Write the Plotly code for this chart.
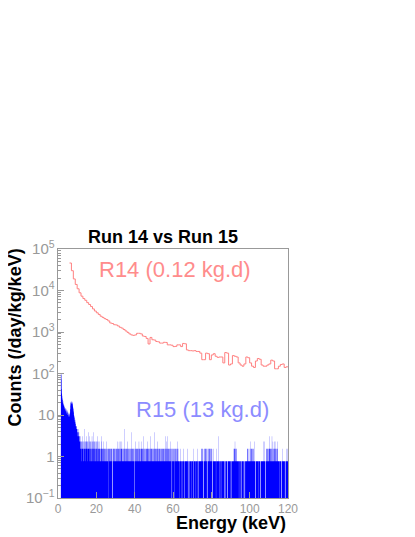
import numpy as np
import plotly.graph_objects as go

# Run 14 (0.12 kg.d): rate in counts/day/kg/keV, 1 keV bins starting at 6 keV
r14_start = 6.0
r14_bin = 1.0
r14_rate = [
    46000, 30000, 19000, 14000, 11000, 8800, 7300, 6400, 5800, 5100,
    4600, 4100, 3600, 3200, 2900, 2650, 2400, 2250, 2100, 2000,
    1850, 1650, 1600, 1500, 1480, 1400, 1300, 1240, 1150, 1060,
    980, 900, 850, 830, 850, 930, 930, 900, 800, 780,
    700, 515, 740, 650, 640, 590, 580, 540, 540, 565,
    560, 490, 490, 480, 445, 450, 490, 490, 445, 530,
    520, 370, 355, 355, 350, 355, 340, 340, 310, 215,
    215, 310, 300, 215, 280, 300, 260, 245, 250, 250,
    180, 320, 310, 160, 170, 270, 260, 250, 180, 160,
    150, 170, 250, 240, 180, 150, 140, 200, 230, 220,
    160, 150, 150, 160, 170, 210, 200, 130, 130, 150,
    165, 170, 140, 145,
]

# Run 15 (13 kg.d): raw counts in 0.1 keV bins
r15_exposure = 13.0   # kg.d
r15_bin = 0.1         # keV
r15_first_bin = 15    # nothing below 1.5 keV
# 1.5 - 13.9 keV
r15_low = [
    125, 130, 120, 95, 55,
    43, 38, 34, 31, 30, 26, 28, 24, 25, 22,
    23, 21, 20, 22, 18, 20, 19, 17, 19, 18,
    16, 19, 17, 15, 18, 16, 14, 17, 15, 16,
    13, 15, 14, 12, 15, 13, 14, 12, 14, 13,
    12, 14, 15, 18, 22, 25, 27, 26, 28, 25,
    27, 26, 24, 27, 25, 26, 24, 22, 20, 18,
    19, 16, 15, 13, 12, 11, 12, 10, 9, 10,
    8, 9, 7, 8, 7, 6, 7, 6, 7, 5,
    6, 5, 6, 4, 5, 6, 4, 5, 4, 5,
    3, 4, 4, 3, 4, 3, 2, 4, 3, 2,
    3, 2, 3, 2, 1, 3, 2, 2, 4, 2,
    3, 1, 2, 3, 2, 1, 2, 6, 2, 3,
]
# 14 - 120 keV, one line per keV, one digit per 0.1 keV bin
r15_high = [
    "2322312432", "3223132252", "2321342312", "3212231423", "2132152313",
    "2231213232", "1232413212", "2312221321", "2121232412", "1221212312",
    "2112212121", "2131212211", "1221201212", "2112212221", "1200021212",
    "2121122121", "1212212112", "2132121231", "1221312122", "2123121211",
    "1212221612", "2112121221", "1231212112", "2121122121", "1251212112",
    "2112212001", "2121312212", "1212212121", "2132121212", "1213221212",
    "2121412121", "1221212112", "2121232121", "1212212211", "4121212212",
    "2112121221", "1212512121", "2121122132", "1212211212", "2121121221",
    "1211221212", "2121212112", "1241221312", "4121212121", "1212212131",
    "2120012121", "1212121201", "2121212112", "1312121211", "1111011121",
    "1110111101", "1111112111", "0011111111", "1111211101", "1100011111",
    "1111101111", "1111110021", "1111111011", "1111102111", "1001111111",
    "1111112121", "1212112100", "0121211212", "1212121000", "1212112121",
    "2121121212", "1212100011", "1121111111", "1111011121", "1111111114",
    "1111001111", "1110111111", "1111111011", "0001111111", "1100011111",
    "1111111101", "1111110011", "1111111212", "2123121211", "2121111111",
    "1111011111", "1111000111", "1111111101", "1110001111", "1111112121",
    "2121111111", "1212131212", "1211212121", "1213111110", "0011111111",
    "1111011111", "1111100011", "1111111111", "1131111131", "0001112121",
    "2121211212", "1212421212", "2121214121", "1312121312", "2131212121",
    "1212131211", "1111101111", "1111100011", "1211111111", "1111000111",
    "1121111112",
]

r15_counts = np.array([0] * r15_first_bin + r15_low + [int(c) for c in "".join(r15_high)], dtype=float)
r15_rate = r15_counts / (r15_exposure * r15_bin)
floor = 1e-2  # below the visible range, empty bins drop out of sight
r15_edges = np.arange(len(r15_counts) + 1) * r15_bin
r15_y = np.append(np.where(r15_counts > 0, r15_rate, floor), floor)

r14_edges = r14_start + np.arange(len(r14_rate) + 1) * r14_bin
r14_y = r14_rate + [r14_rate[-1]]

fig = go.Figure()
fig.add_trace(go.Scatter(x=r15_edges, y=r15_y, mode='lines', fill='toself',
                         fillcolor='#0000ff', line=dict(width=0, shape='hv', simplify=False),
                         hoverinfo='skip', name='R15'))
fig.add_trace(go.Scatter(x=r14_edges, y=r14_y, mode='lines',
                         line=dict(color='#ff8080', width=1, shape='hv', simplify=False),
                         name='R14'))

grey = '#999999'
fig.update_xaxes(range=[0, 120], dtick=20, ticks='inside', ticklen=6, tickcolor=grey,
                 showline=True, linecolor=grey, mirror=True, showgrid=False, zeroline=False,
                 tickfont=dict(family='Liberation Sans', size=12, color=grey))
fig.update_yaxes(type='log', range=[-1, 5], dtick=1, exponentformat='power',
                 ticks='inside', ticklen=6, tickcolor=grey,
                 minor=dict(ticks='inside', ticklen=3, tickcolor=grey, showgrid=False),
                 showline=True, linecolor=grey, mirror=True, showgrid=False, zeroline=False,
                 tickfont=dict(family='Liberation Sans', size=12, color=grey))

# the page body adds an 8 px margin, so the figure is 8 px smaller than the window
bold = dict(family='Liberation Sans', size=18, color='black', weight='bold')
fig.update_layout(
    width=407, height=529,
    margin=dict(l=50, r=127, t=241, b=39),
    paper_bgcolor='white', plot_bgcolor='white',
    showlegend=False,
    title=dict(text='<b>Run 14 vs Run 15</b>', font=bold, xref='paper', x=0.4565,
               xanchor='center', y=1 - 229 / 529, yanchor='middle'),
)
fig.add_annotation(text='<b>Counts (/day/kg/keV)</b>', font=bold, textangle=-90,
                   xref='paper', yref='paper', x=-0.187, y=0.645,
                   xanchor='center', yanchor='middle', showarrow=False)
fig.add_annotation(text='<b>Energy (keV)</b>', font=bold,
                   xref='paper', yref='paper', x=1.0, y=-0.10,
                   xanchor='right', yanchor='middle', showarrow=False)
fig.add_annotation(text='R14 (0.12 kg.d)', font=dict(family='Liberation Sans', size=22, color='#ff8c8c'),
                   xref='paper', yref='paper', x=0.507, y=0.916,
                   xanchor='center', yanchor='middle', showarrow=False)
fig.add_annotation(text='R15 (13 kg.d)', font=dict(family='Liberation Sans', size=22, color='#8c8cff'),
                   xref='paper', yref='paper', x=0.630, y=0.357,
                   xanchor='center', yanchor='middle', showarrow=False)

fig.write_html("out.html")
